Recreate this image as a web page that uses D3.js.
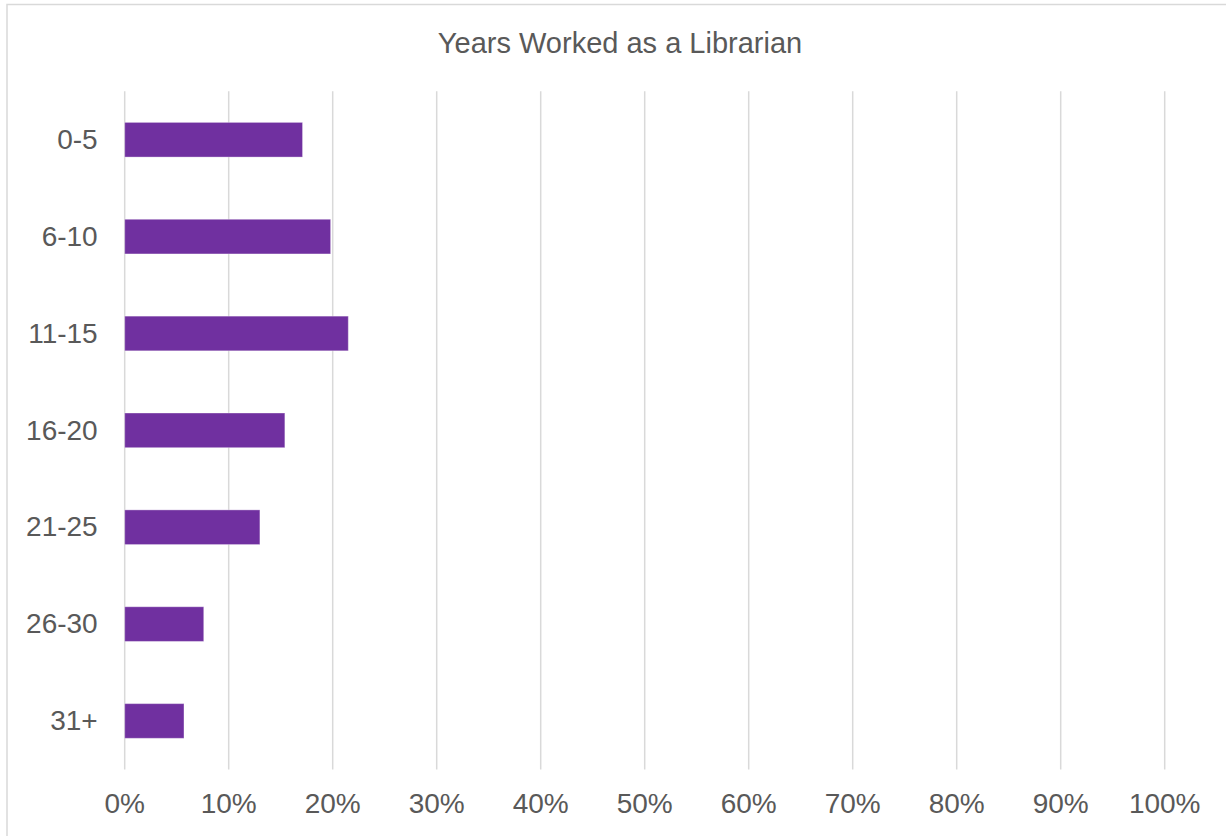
<!DOCTYPE html>
<html>
<head>
<meta charset="utf-8">
<script src="https://cdn.jsdelivr.net/npm/d3@7"></script>
<style>
  html, body { margin: 0; padding: 0; background: #fff; }
  svg { display: block; }
  text { font-family: "Liberation Sans", Arial, sans-serif; fill: #595959; }
</style>
</head>
<body>
<svg id="chart" width="1226" height="836"></svg>
<script>
const title = "Years Worked as a Librarian";
const categories = ["0-5", "6-10", "11-15", "16-20", "21-25", "26-30", "31+"];
const values = [0.171, 0.198, 0.215, 0.154, 0.130, 0.076, 0.057];
const tickValues = [0, 0.1, 0.2, 0.3, 0.4, 0.5, 0.6, 0.7, 0.8, 0.9, 1.0];

const svg = d3.select("#chart");
const W = 1226, H = 836;
const m = { left: 124.7, right: 1164.7, top: 91.3, bottom: 769.4 };

// chart border (cropped on right/bottom)
svg.append("rect")
  .attr("x", 7).attr("y", 4.5)
  .attr("width", 1240).attr("height", 860)
  .attr("fill", "#fff").attr("stroke", "#d9d9d9").attr("stroke-width", 1.5);

const x = d3.scaleLinear().domain([0, 1]).range([m.left, m.right]);
const y = d3.scaleBand().domain(categories).range([m.top, m.bottom]).paddingInner(0.642).paddingOuter(0.321);

// gridlines
svg.append("g").selectAll("line").data(tickValues).join("line")
  .attr("x1", d => x(d)).attr("x2", d => x(d))
  .attr("y1", m.top).attr("y2", m.bottom)
  .attr("stroke", "#d9d9d9").attr("stroke-width", 1.5);

// bars
svg.append("g").selectAll("rect").data(categories).join("rect")
  .attr("x", x(0))
  .attr("y", d => y(d))
  .attr("width", (d, i) => x(values[i]) - x(0))
  .attr("height", y.bandwidth())
  .attr("fill", "#7030A0")
  .attr("stroke", "#ffffff").attr("stroke-opacity", 0.35).attr("stroke-width", 1);

// category labels
svg.append("g").selectAll("text").data(categories).join("text")
  .attr("x", m.left - 27)
  .attr("y", d => y(d) + y.bandwidth() / 2)
  .attr("dy", "0.33em")
  .attr("text-anchor", "end")
  .attr("font-size", 28)
  .text(d => d);

// x tick labels
const fmt = d3.format(".0%");
svg.append("g").selectAll("text").data(tickValues).join("text")
  .attr("x", d => x(d))
  .attr("y", 813)
  .attr("text-anchor", "middle")
  .attr("font-size", 28)
  .text(d => fmt(d));

// title
svg.append("text")
  .attr("x", 620).attr("y", 53)
  .attr("text-anchor", "middle")
  .attr("font-size", 29)
  .text(title);
</script>
</body>
</html>
